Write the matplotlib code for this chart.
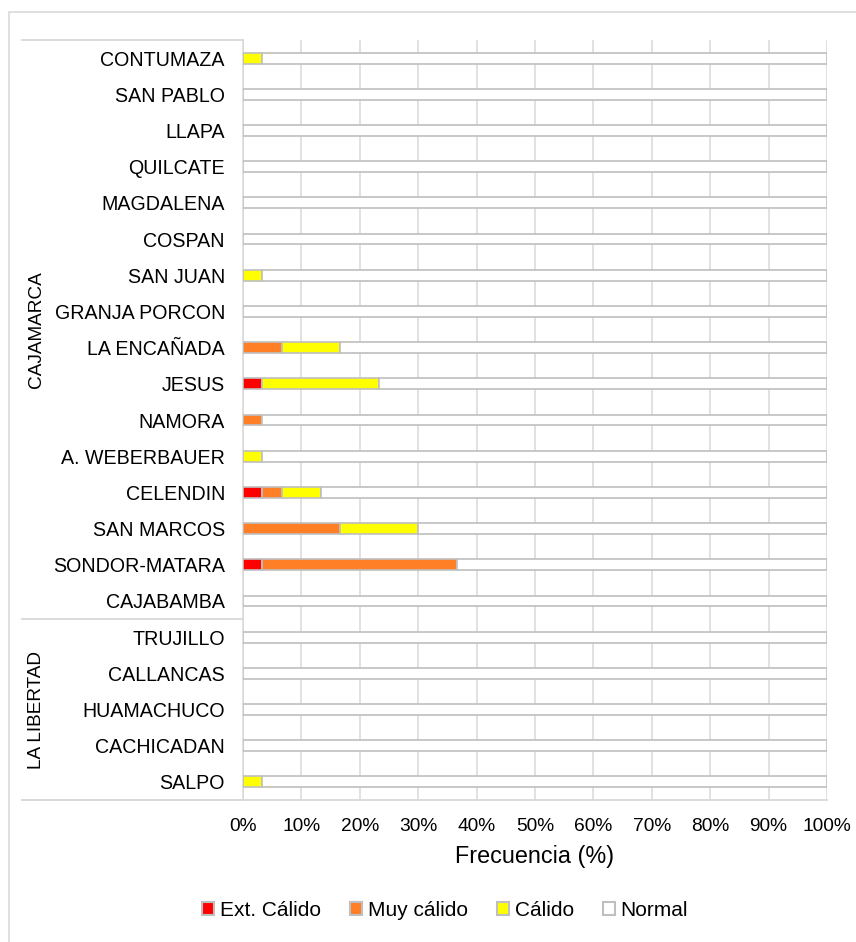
import numpy as np
import matplotlib
matplotlib.use('Agg')
from matplotlib import pyplot as plt
from matplotlib import font_manager
from matplotlib.patches import Patch, Rectangle

# data (% of years), top to bottom
stations = ['CONTUMAZA', 'SAN PABLO', 'LLAPA', 'QUILCATE', 'MAGDALENA', 'COSPAN',
            'SAN JUAN', 'GRANJA PORCON', 'LA ENCAÑADA', 'JESUS', 'NAMORA',
            'A. WEBERBAUER', 'CELENDIN', 'SAN MARCOS', 'SONDOR-MATARA', 'CAJABAMBA',
            'TRUJILLO', 'CALLANCAS', 'HUAMACHUCO', 'CACHICADAN', 'SALPO']
regions = ['CAJAMARCA', 'LA LIBERTAD']
region_sizes = [16, 5]

ext_calido = [0, 0, 0, 0, 0, 0, 0, 0, 0, 3.33, 0, 0, 3.33, 0, 3.33, 0, 0, 0, 0, 0, 0]
muy_calido = [0, 0, 0, 0, 0, 0, 0, 0, 6.67, 0, 3.33, 0, 3.33, 16.67, 33.33, 0, 0, 0, 0, 0, 0]
calido = [3.33, 0, 0, 0, 0, 0, 3.33, 0, 10.0, 20.0, 0, 3.33, 6.67, 13.33, 0, 0, 0, 0, 0, 0, 3.33]
normal = list(100 - np.array(ext_calido) - np.array(muy_calido) - np.array(calido))

series = [('Ext. Cálido', ext_calido, '#ff0000'),
          ('Muy cálido', muy_calido, '#ff7f27'),
          ('Cálido', calido, '#ffff00'),
          ('Normal', normal, '#ffffff')]
xticks = [0, 10, 20, 30, 40, 50, 60, 70, 80, 90, 100]

names = {f.name for f in font_manager.fontManager.ttflist}
if 'Liberation Sans Narrow' in names:
    fam, k, kx = 'Liberation Sans Narrow', 1.0, 1.0
else:
    fam, k, kx = 'Liberation Sans', 0.91, 0.86
plt.rcParams['font.family'] = [fam, 'DejaVu Sans']

edge = '#bfbfbf'
grid = '#d9d9d9'

fig = plt.figure(figsize=(8.56, 9.42), dpi=100)
ax = fig.add_axes([243/856, 1-800/942, 584/856, 760/942])

y = np.arange(len(stations))
left = np.zeros(len(stations))
for name, vals, col in series:
    ax.barh(y, vals, left=left, height=0.30, color=col, edgecolor=edge,
            linewidth=1.2, label=name, zorder=3)
    left += np.array(vals)

ax.set_xlim(0, 100)
ax.set_ylim(len(stations) - 0.5, -0.5)
ax.set_yticks(y)
ax.set_yticklabels(stations)
ax.set_xticks(xticks)
ax.set_xticklabels([f'{t}%' for t in xticks])
ax.tick_params(axis='y', length=0, pad=13, labelsize=15.5*k)
ax.tick_params(axis='x', length=0, pad=13, labelsize=16*kx)
ax.xaxis.grid(True, color=grid, linewidth=1.1, zorder=0)
ax.set_axisbelow(True)
for s in ['top', 'right']:
    ax.spines[s].set_visible(False)
ax.spines['left'].set_color(grid)
ax.spines['left'].set_linewidth(1.1)
ax.spines['bottom'].set_visible(False)

ax.set_xlabel('Frecuencia (%)', fontsize=18.5*k, labelpad=7)

# region labels and separators on the category axis
x0 = (22 - 243) / 584
ax.plot([x0, 1], [len(stations) - 0.5] * 2, color=grid, lw=1.3,
        transform=ax.get_yaxis_transform(), clip_on=False)
start = -0.5
ax.plot([x0, 0], [start, start], color=grid, lw=1.3,
        transform=ax.get_yaxis_transform(), clip_on=False)
for reg, n in zip(regions, region_sizes):
    end = start + n
    ax.plot([x0, 0], [end, end], color=grid, lw=1.3,
            transform=ax.get_yaxis_transform(), clip_on=False)
    ax.text((36 - 243) / 584, (start + end) / 2, reg, rotation=90,
            ha='center', va='center', fontsize=15*k,
            transform=ax.get_yaxis_transform())
    start = end

handles = [Patch(facecolor=c, edgecolor=edge, linewidth=1.5, label=n) for n, v, c in series]
fig.legend(handles=handles, loc='center', bbox_to_anchor=(445/856, 1-910/942),
           ncol=4, frameon=False, fontsize=16.5*k, handlelength=0.6,
           handleheight=0.6, handletextpad=0.25, columnspacing=1.4)

# outer chart frame
fig.patches.append(Rectangle((9/856, -0.1), 1.2, 1-12/942+0.1, transform=fig.transFigure,
                             fill=False, edgecolor=grid, linewidth=1.2))

fig.savefig('out.png', dpi=100)
